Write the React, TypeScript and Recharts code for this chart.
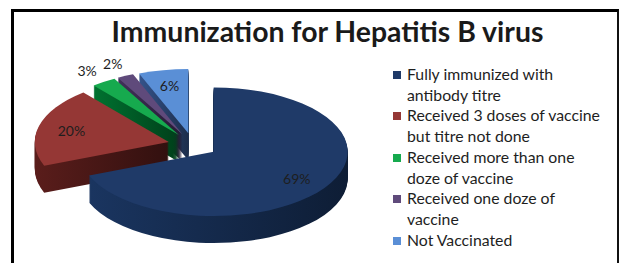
import { Cell, Legend, Pie, PieChart } from "recharts";

const CATEGORIES = [
  "Fully immunized with\nantibody titre",
  "Received 3 doses of vaccine\nbut titre not done",
  "Received more than one\ndoze of vaccine",
  "Received one doze of\nvaccine",
  "Not Vaccinated",
];
const PERCENTS = [69, 20, 3, 2, 6];

const TOP_COLORS = ["#1f3a68", "#953735", "#16aa4e", "#5f4a7b", "#5a8fd6"];
const SIDE_COLORS = ["#1a3560", "#5a1d1b", "#007230", "#41315a", "#34538a"];

const FONT = "Lato, 'Open Sans', sans-serif";
const RATIO = 0.48;
const DEPTH = 27;
const EXPLODE = 25;
const RAD = Math.PI / 180;

// painted back to front: reversed order, counter-clockwise from 12 o'clock
const data = CATEGORIES.map((name, i) => ({ name, value: PERCENTS[i], idx: i })).reverse();

function shade(hex: string, f: number) {
  const n = parseInt(hex.slice(1), 16);
  const r = Math.round(((n >> 16) & 255) * f);
  const g = Math.round(((n >> 8) & 255) * f);
  const b = Math.round((n & 255) * f);
  return `rgb(${r},${g},${b})`;
}

function explodeOffset(mid: number) {
  return {
    dx: EXPLODE * Math.cos(mid * RAD),
    dy: -EXPLODE * Math.sin(mid * RAD) * RATIO,
  };
}

function facePath(cx: number, cy: number, rx: number, ry: number, s: number, e: number) {
  const x1 = cx + rx * Math.cos(s * RAD);
  const y1 = cy - ry * Math.sin(s * RAD);
  const x2 = cx + rx * Math.cos(e * RAD);
  const y2 = cy - ry * Math.sin(e * RAD);
  const large = Math.abs(e - s) > 180 ? 1 : 0;
  const sweep = e > s ? 0 : 1;
  return `M${cx},${cy}L${x1},${y1}A${rx},${ry} 0 ${large} ${sweep} ${x2},${y2}Z`;
}

function Slice3D(props: any) {
  const { cx, cy, outerRadius, startAngle, endAngle, fill } = props;
  const idx = props.payload?.idx ?? props.idx ?? 0;
  const mid = (startAngle + endAngle) / 2;
  const { dx, dy } = explodeOffset(mid);
  const x = cx + dx;
  const y = cy + dy;
  const rx = outerRadius;
  const ry = outerRadius * RATIO;
  const gid = `side-${idx}`;
  const layers = [];
  for (let d = DEPTH; d > 0; d -= 1) {
    layers.push(<path key={d} d={facePath(x, y + d, rx, ry, startAngle, endAngle)} fill={`url(#${gid})`} />);
  }
  return (
    <g>
      <defs>
        <linearGradient id={gid} x1="0" y1="0" x2="1" y2="0">
          <stop offset="0%" stopColor={SIDE_COLORS[idx]} />
          <stop offset="100%" stopColor={shade(SIDE_COLORS[idx], 0.55)} />
        </linearGradient>
      </defs>
      {layers}
      <path d={facePath(x, y, rx, ry, startAngle, endAngle)} fill={fill} />
    </g>
  );
}

function renderLabel(props: any) {
  const { cx, cy, midAngle, outerRadius, percent } = props;
  const { dx, dy } = explodeOffset(midAngle);
  const f = percent >= 0.05 ? 0.75 : 1.22;
  const x = cx + dx + f * outerRadius * Math.cos(midAngle * RAD);
  const y = cy + dy - f * outerRadius * RATIO * Math.sin(midAngle * RAD);
  return (
    <text x={x} y={y} textAnchor="middle" dominantBaseline="central" fontFamily={FONT} fontSize={14} fill="#1e1e1e">
      {`${Math.round(percent * 100)}%`}
    </text>
  );
}

function LegendList(props: any) {
  const items = [...(props.payload ?? [])].sort(
    (a: any, b: any) => CATEGORIES.indexOf(a.value) - CATEGORIES.indexOf(b.value)
  );
  return (
    <div style={{ fontFamily: FONT, fontSize: 15.8, lineHeight: "20.7px", color: "#1e1e1e", textAlign: "left" }}>
      {items.map((p: any) => (
        <div key={p.value} style={{ display: "flex" }}>
          <span
            style={{
              width: 8,
              height: 8,
              marginTop: 7,
              marginRight: 6,
              flex: "none",
              background: p.color ?? TOP_COLORS[CATEGORIES.indexOf(p.value)],
            }}
          />
          <span style={{ whiteSpace: "pre-line" }}>{p.value}</span>
        </div>
      ))}
    </div>
  );
}

export default function App() {
  return (
    <div style={{ position: "absolute", left: 0, top: 0, width: 620, height: 263, background: "#fff", overflow: "hidden" }}>
      <div
        style={{
          position: "absolute",
          left: 11,
          top: 9,
          width: 603,
          height: 280,
          borderLeft: "3px solid #000",
          borderTop: "3px solid #000",
          borderRight: "2px solid #111",
        }}
      />
      <div
        style={{
          position: "absolute",
          left: 0,
          top: 14,
          width: 655,
          textAlign: "center",
          fontFamily: FONT,
          fontWeight: 700,
          fontSize: 28.4,
          lineHeight: "34px",
          color: "#1a1a1a",
        }}
      >
        Immunization for Hepatitis B virus
      </div>
      <div style={{ position: "absolute", left: 0, top: 0 }}>
        <PieChart width={620} height={263} margin={{ top: 0, right: 0, bottom: 0, left: 0 }}>
          <Pie
            data={data}
            dataKey="value"
            nameKey="name"
            cx={193}
            cy={145}
            outerRadius={134}
            startAngle={90}
            endAngle={450}
            stroke="none"
            shape={Slice3D}
            label={renderLabel}
            labelLine={false}
            isAnimationActive={false}
          >
            {data.map((d) => (
              <Cell key={d.idx} fill={TOP_COLORS[d.idx]} />
            ))}
          </Pie>
          <Legend
            layout="vertical"
            align="center"
            verticalAlign="middle"
            content={LegendList}
            wrapperStyle={{ left: 393, top: 64, width: 225 }}
          />
        </PieChart>
      </div>
    </div>
  );
}
